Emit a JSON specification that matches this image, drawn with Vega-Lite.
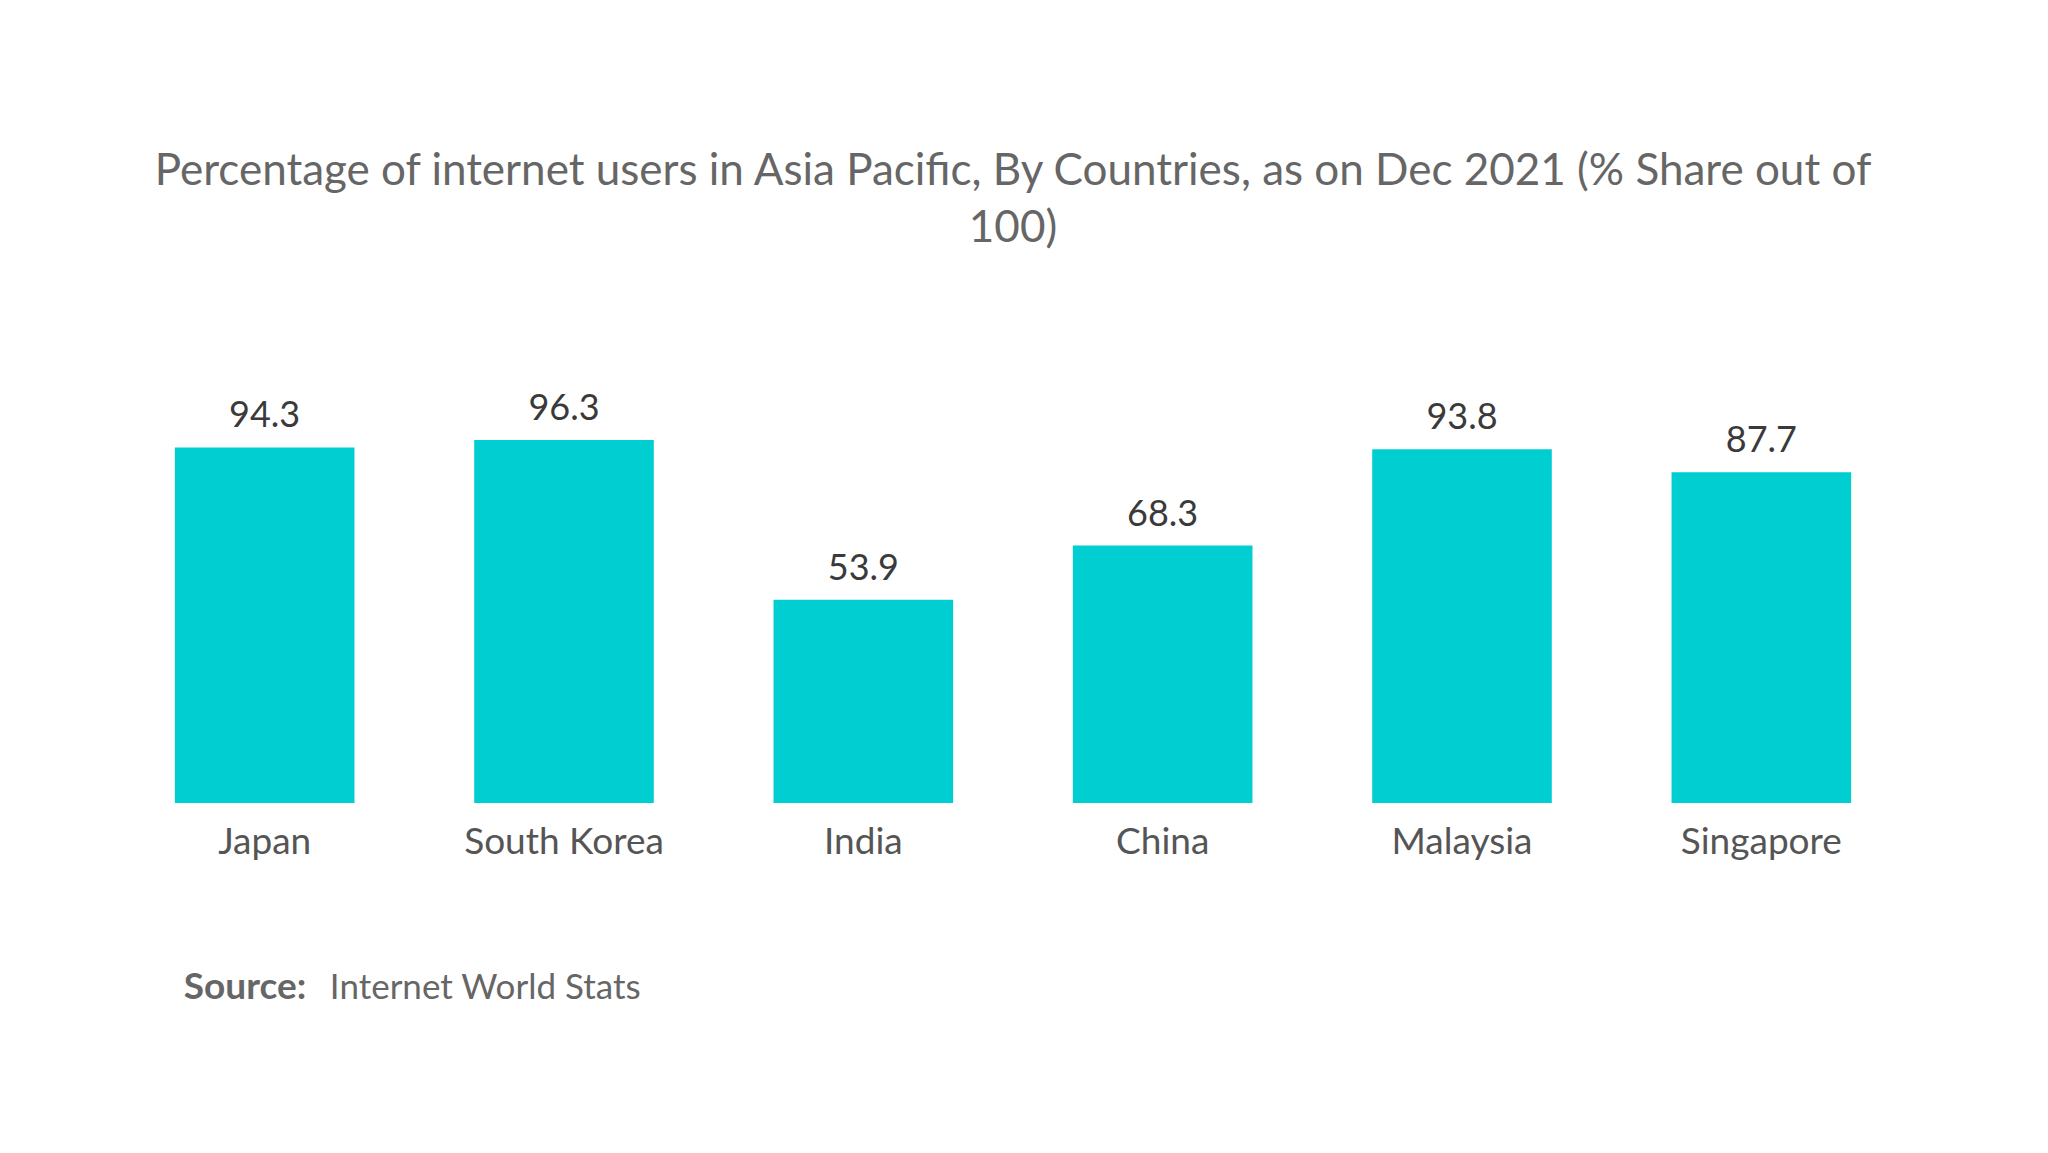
{
  "$schema": "https://vega.github.io/schema/vega-lite/v6.json",
  "width": 1796,
  "height": 377,
  "autosize": {"type": "none"},
  "padding": {"left": 115, "top": 426, "right": 137, "bottom": 350},
  "background": "white",
  "config": {
    "view": {"stroke": null},
    "font": "Lato"
  },
  "title": {
    "text": ["Percentage of internet users in Asia Pacific, By Countries, as on Dec 2021 (% Share out of", "100)"],
    "fontSize": 44,
    "fontWeight": "normal",
    "color": "#666666",
    "lineHeight": 57,
    "anchor": "middle",
    "offset": 140
  },
  "data": {
    "values": [
      {"country": "Japan", "share": 94.3},
      {"country": "South Korea", "share": 96.3},
      {"country": "India", "share": 53.9},
      {"country": "China", "share": 68.3},
      {"country": "Malaysia", "share": 93.8},
      {"country": "Singapore", "share": 87.7}
    ]
  },
  "layer": [
    {
      "mark": {"type": "bar", "color": "#00CED1"},
      "encoding": {
        "x": {
          "field": "country", "type": "nominal", "sort": null,
          "scale": {"paddingInner": 0.4, "paddingOuter": 0.2},
          "axis": {"title": null, "domain": false, "ticks": false, "labelAngle": 0, "labelFontSize": 37, "labelColor": "#555555", "labelPadding": 21, "labelLimit": 0, "labelFont": "Lato"}
        },
        "y": {
          "field": "share", "type": "quantitative",
          "scale": {"domain": [0, 100], "nice": false},
          "axis": null
        }
      }
    },
    {
      "mark": {"type": "text", "fontSize": 36, "color": "#3a3a3a", "baseline": "alphabetic", "dy": -20},
      "encoding": {
        "x": {"field": "country", "type": "nominal", "sort": null},
        "y": {"field": "share", "type": "quantitative"},
        "text": {"field": "share", "type": "quantitative", "format": ".1f"}
      }
    },
    {
      "data": {"values": [{"label": "Source:"}]},
      "mark": {"type": "text", "fontSize": 37, "fontWeight": "bold", "color": "#666666", "align": "left", "baseline": "middle", "dx": 9},
      "encoding": {
        "x": {"datum": "Japan", "type": "nominal", "bandPosition": 0},
        "y": {"datum": -49, "type": "quantitative"},
        "text": {"field": "label"}
      }
    },
    {
      "data": {"values": [{"label": "Internet World Stats"}]},
      "mark": {"type": "text", "fontSize": 35, "color": "#666666", "align": "left", "baseline": "middle", "dx": 155},
      "encoding": {
        "x": {"datum": "Japan", "type": "nominal", "bandPosition": 0},
        "y": {"datum": -49, "type": "quantitative"},
        "text": {"field": "label"}
      }
    }
  ]
}
